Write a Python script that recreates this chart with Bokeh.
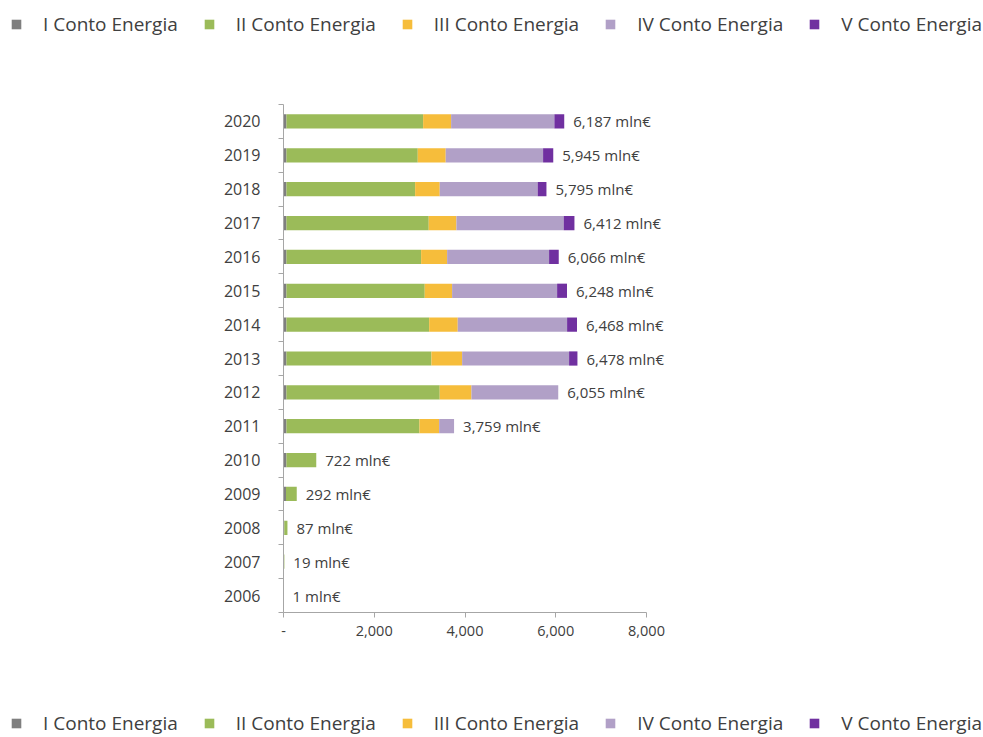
from bokeh.plotting import figure
from bokeh.models import ColumnDataSource, Legend, LegendItem, FixedTicker, NumeralTickFormatter, Range1d
from bokeh.core.properties import value
from bokeh.embed import file_html
from bokeh.resources import INLINE

years = ["2006", "2007", "2008", "2009", "2010", "2011", "2012", "2013",
         "2014", "2015", "2016", "2017", "2018", "2019", "2020"]
conto_I = [1, 4, 18, 55, 65, 65, 65, 65, 65, 65, 65, 65, 65, 65, 65]
conto_II = [0, 15, 69, 237, 657, 2931, 3378, 3195, 3145, 3048, 2968, 3136, 2836, 2894, 3012]
conto_III = [0, 0, 0, 0, 0, 434, 699, 677, 630, 603, 573, 610, 542, 616, 617]
conto_IV = [0, 0, 0, 0, 0, 329, 1913, 2357, 2410, 2314, 2247, 2364, 2159, 2146, 2276]
conto_V = [0, 0, 0, 0, 0, 0, 0, 184, 218, 218, 213, 237, 193, 224, 217]
series_names = ["I Conto Energia", "II Conto Energia", "III Conto Energia",
                "IV Conto Energia", "V Conto Energia"]
colors = ["#7f7f7f", "#9bbb59", "#f6bd3b", "#b1a0c7", "#7030a0"]
x_ticks = [0, 2000, 4000, 6000, 8000]

FONT = "Open Sans"
TXT = "#404040"
AX = "#a6a6a6"
W = 983
STACK = ["I", "II", "III", "IV", "V"]

ypos = list(range(len(years)))
totals = [a + b + c + d + e for a, b, c, d, e in zip(conto_I, conto_II, conto_III, conto_IV, conto_V)]
labels = [f"{t:,} mln€" for t in totals]

source = ColumnDataSource(dict(y=ypos, I=conto_I, II=conto_II, III=conto_III, IV=conto_IV, V=conto_V,
                               total=totals, label=labels))

# ---- main chart ----
MAIN_H = 650
FRAME_LEFT, AXIS_END_PX = 283, 646
x_end = x_ticks[-1] * (W - FRAME_LEFT) / (AXIS_END_PX - FRAME_LEFT)

p = figure(width=W, height=MAIN_H, output_backend="svg", toolbar_location=None,
           x_range=Range1d(0, x_end), y_range=Range1d(-0.5, len(years) - 0.5),
           min_border_left=FRAME_LEFT, min_border_right=0, min_border_top=54, min_border_bottom=88)
p.outline_line_color = None
p.xgrid.visible = False
p.ygrid.visible = False

p.hbar_stack(STACK, y="y", height=0.42, fill_color=colors, line_color=None, source=source)

p.text(x="total", y="y", text="label", source=source, x_offset=9, text_baseline="middle",
       text_font=value(FONT), text_font_size="15px", text_color=TXT)

xa = p.xaxis[0]
xa.bounds = (x_ticks[0], x_ticks[-1])
xa.ticker = FixedTicker(ticks=x_ticks)
xa.formatter = NumeralTickFormatter(format="0,0")
xa.major_label_overrides = {0: "-"}
xa.axis_line_color = AX
xa.major_tick_line_color = AX
xa.major_tick_out = 5
xa.major_tick_in = 0
xa.minor_tick_line_color = None
xa.major_label_standoff = 8
xa.major_label_text_font = FONT
xa.major_label_text_font_size = "14.5px"
xa.major_label_text_color = TXT

ya = p.yaxis[0]
ya.ticker = FixedTicker(ticks=ypos, minor_ticks=[i - 0.5 for i in range(len(years) + 1)])
ya.major_label_overrides = {i: y for i, y in zip(ypos, years)}
ya.axis_line_color = AX
ya.major_tick_line_color = None
ya.major_tick_out = 0
ya.major_tick_in = 0
ya.minor_tick_line_color = AX
ya.minor_tick_out = 5
ya.minor_tick_in = 0
ya.major_label_standoff = 18
ya.major_label_text_font = FONT
ya.major_label_text_font_size = "16px"
ya.major_label_text_color = TXT


# ---- legend strips (separate roots, so no frame alignment with the chart) ----
def legend_fig(h, y_loc):
    f = figure(width=W, height=h, output_backend="svg", toolbar_location=None,
               x_axis_type=None, y_axis_type=None, min_border=0,
               x_range=Range1d(0, 1), y_range=Range1d(0, 1))
    f.outline_line_color = None
    f.xgrid.visible = False
    f.ygrid.visible = False
    rs = f.hbar_stack(STACK, y="y", height=0.42, fill_color=colors, line_color=None, source=source)
    for r in rs:
        r.visible = False
    lg = Legend(items=[LegendItem(label=n, renderers=[r]) for n, r in zip(series_names, rs)],
                orientation="horizontal", location=(10, y_loc))
    lg.border_line_color = None
    lg.background_fill_alpha = 0
    lg.label_text_font = FONT
    lg.label_text_font_size = "19px"
    lg.label_text_color = TXT
    lg.glyph_width = 12
    lg.glyph_height = 12
    lg.label_standoff = 21
    lg.spacing = 25
    lg.padding = 0
    lg.margin = 0
    f.add_layout(lg, "center")
    return f


top = legend_fig(50, 13)
bottom = legend_fig(37, 1)

open("out.html", "w").write(file_html([top, p, bottom], INLINE))
